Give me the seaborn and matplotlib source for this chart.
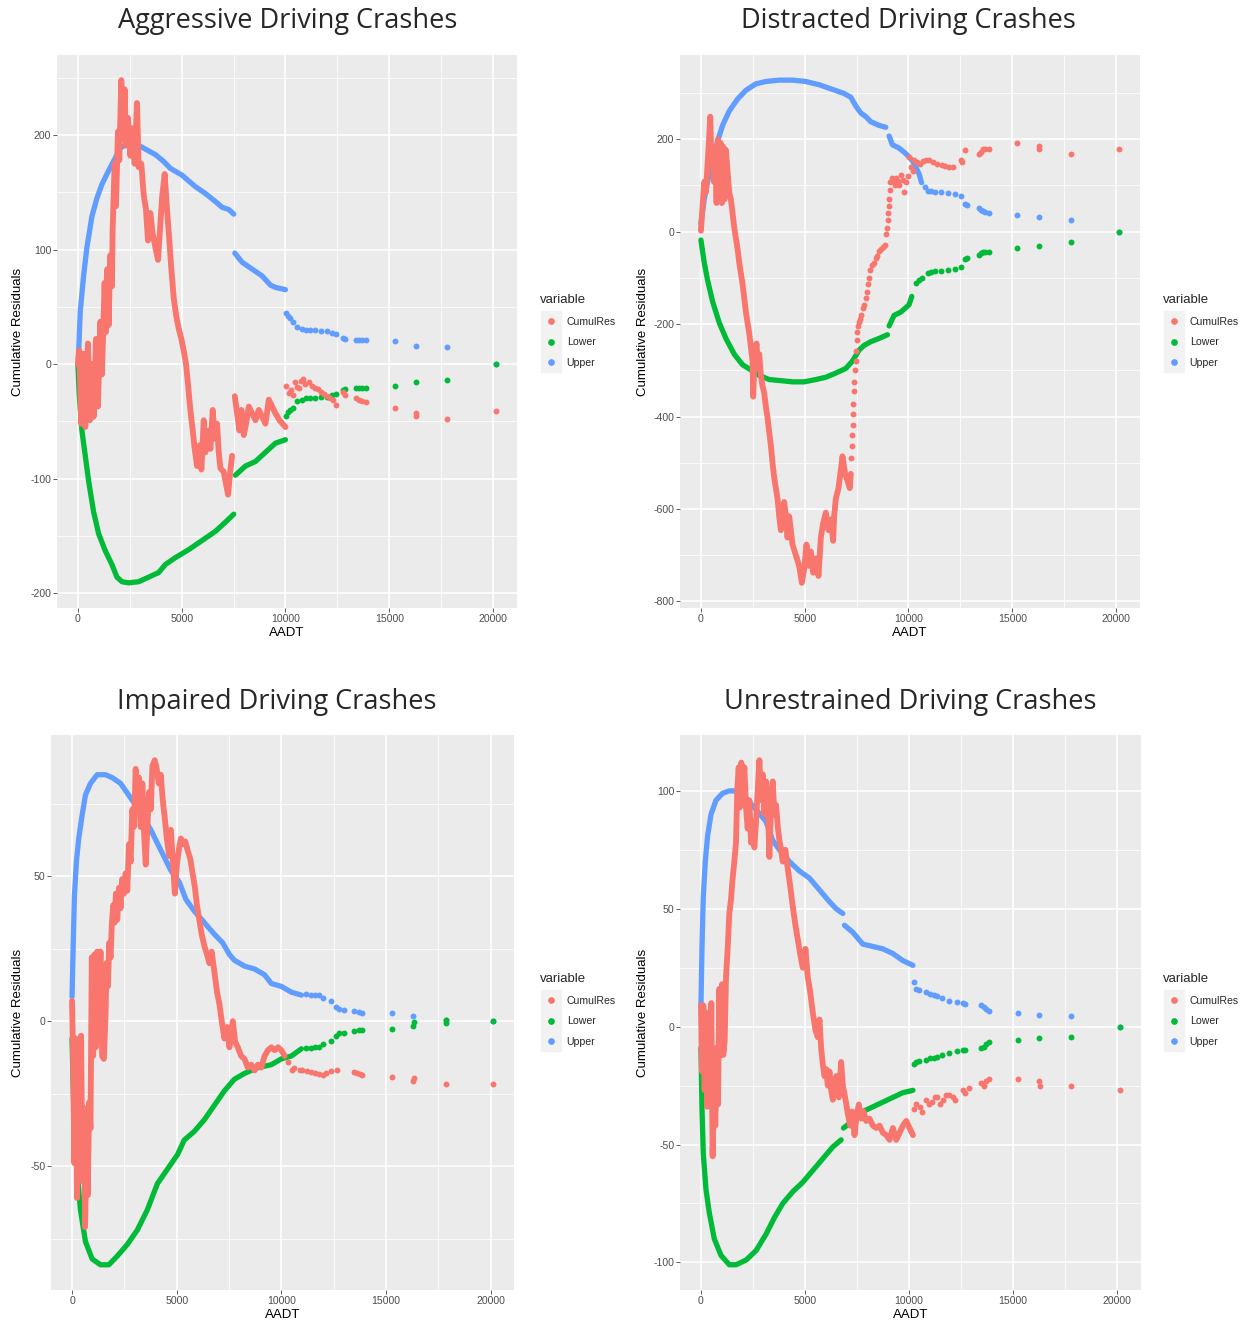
import pandas as pd
import matplotlib
matplotlib.use("Agg")
import matplotlib.pyplot as plt
import seaborn as sns
from matplotlib.lines import Line2D
from matplotlib.legend_handler import HandlerTuple
from matplotlib.ticker import MultipleLocator

# (AADT, value); None = break in a dense run
# "tail" lists are the sparse points drawn as single dots

# ---- Aggressive
tl_upper = [(0, 0), (40, 12), (113, 46), (273, 77), (434, 102), (675, 129), (917, 145), (1158, 157),
            (1479, 169), (1801, 180), (2042, 189), (2283, 191), (2605, 192), (2927, 191), (3329, 187),
            (3731, 183), (4133, 177), (4454, 171), (5017, 165), (5660, 155), (6143, 149), (6625, 142),
            (6947, 137), (7268, 135), (7510, 131), None,
            (7560, 97), (7911, 89), (8394, 83), (8876, 77), (9278, 69), (9520, 67), (10000, 65)]
tl_upper_tail = [(10030, 45), (10120, 42), (10200, 40), (10350, 37), (10570, 32), (10800, 31), (11000, 30),
                 (11200, 30), (11420, 30), (11700, 29), (12000, 29), (12250, 27), (12460, 26), (12750, 23),
                 (12850, 22), (13400, 21), (13550, 21), (13700, 21), (13880, 21), (15270, 20), (16290, 16),
                 (17770, 15), (20150, 0)]
tl_lower = [(0, 0), (60, -25), (193, -58), (354, -80), (515, -102), (756, -129), (997, -148), (1319, -163),
            (1640, -175), (1881, -186), (2123, -190), (2444, -191), (2927, -190), (3409, -186), (3891, -182),
            (4213, -175), (4695, -169), (5338, -162), (5982, -154), (6625, -146), (7107, -138), (7510, -131), None,
            (7590, -97), (8072, -89), (8555, -85), (9037, -77), (9520, -69), (10000, -66)]
tl_lower_tail = [(10030, -45), (10120, -42), (10200, -40), (10350, -38), (10570, -32), (10800, -31), (11000, -30),
                 (11200, -30), (11420, -30), (11700, -29), (12000, -29), (12250, -27), (12460, -26), (12750, -23),
                 (12850, -22), (13400, -21), (13550, -21), (13700, -21), (13880, -21), (15270, -19), (16290, -16),
                 (17770, -14), (20150, 0)]
tl_cumul = [(0, 0), (64, 12), (161, -52), (273, 9), (354, -55), (482, 18), (579, -49), (675, 0), (756, -46),
            (868, 22), (965, -37), (1077, 37), (1158, -9), (1286, 71), (1351, 28), (1415, 83), (1479, 34),
            (1560, 95), (1640, 68), (1672, 117), (1769, 175), (1833, 138), (1930, 203), (1994, 178), (2090, 248),
            (2171, 197), (2251, 240), (2316, 191), (2412, 215), (2525, 182), (2637, 206), (2734, 175), (2846, 228),
            (2927, 172), (3055, 175), (3168, 148), (3280, 135), (3377, 108), (3489, 132), (3602, 114), (3731, 102),
            (3859, 91), (3956, 117), (4052, 145), (4181, 166), (4293, 135), (4406, 108), (4502, 83), (4615, 58),
            (4728, 43), (4856, 31), (4985, 22), (5097, 12), (5210, 0), (5306, -18), (5419, -40), (5532, -58),
            (5628, -74), (5741, -89), (5853, -71), (5950, -92), (6062, -49), (6143, -77), (6271, -58), (6384, -74),
            (6496, -40), (6593, -65), (6705, -52), (6786, -77), (6866, -91), (7027, -94), (7140, -105), (7236, -114),
            (7332, -95), (7429, -80), None,
            (7558, -28), (7670, -43), (7783, -58), (7879, -40), (7992, -62), (8104, -52), (8233, -37), (8394, -43),
            (8555, -49), (8716, -40), (8876, -46), (9037, -52), (9198, -31), (9359, -37), (9520, -43), (9712, -49),
            (10000, -55)]
tl_cumul_tail = [(10050, -19), (10150, -25), (10250, -23), (10350, -27), (10450, -16), (10550, -20), (10650, -21),
                 (10750, -15), (10850, -13), (10950, -17), (11150, -16), (11300, -19), (11420, -21), (11550, -22),
                 (11700, -24), (11850, -26), (12000, -28), (12150, -30), (12300, -31), (12460, -36), (12750, -24),
                 (12850, -27), (13400, -30), (13550, -31), (13700, -32), (13880, -33), (15270, -38), (16290, -43),
                 (16300, -45), (17770, -48), (20150, -41)]

# ---- Distracted
tr_upper = [(0, 18), (160, 70), (321, 108), (562, 154), (803, 196), (1043, 230), (1364, 261), (1766, 287),
            (2167, 306), (2648, 320), (3130, 325), (3772, 328), (4414, 328), (5056, 325), (5698, 318), (6340, 308),
            (6902, 299), (7223, 291), (7463, 272), (7704, 257), (7945, 249), (8186, 238), (8587, 230), (8908, 226), None,
            (9068, 207), (9229, 188), (9550, 181), (9871, 169), (10192, 154), (10350, 140), (10513, 125), (10634, 106)]
tr_upper_tail = [(10800, 97), (10919, 89), (11100, 88), (11300, 86), (11584, 85), (11900, 83), (12249, 81),
                 (12534, 77), (12723, 60), (12800, 58), (13388, 52), (13480, 48), (13578, 44), (13700, 42),
                 (13863, 41), (15250, 36), (16275, 31), (17813, 25), (20150, 0)]
tr_lower = [(0, -18), (160, -67), (321, -105), (562, -151), (883, -197), (1204, -231), (1605, -265), (2006, -288),
            (2407, -299), (2809, -311), (3290, -320), (3772, -322), (4414, -325), (4976, -325), (5537, -320),
            (6019, -315), (6500, -306), (6982, -296), (7303, -280), (7624, -256), (7865, -246), (8186, -238),
            (8587, -231), (8988, -223), None,
            (9068, -204), (9309, -181), (9630, -174), (10031, -158), (10160, -140)]
tr_lower_tail = [(10350, -110), (10500, -105), (10634, -101), (10919, -89), (11100, -88), (11300, -86),
                 (11584, -85), (11900, -83), (12249, -80), (12534, -76), (12723, -60), (12800, -58), (13388, -51),
                 (13480, -47), (13578, -43), (13700, -43), (13863, -43), (15250, -35), (16275, -31), (17813, -22),
                 (20150, 0)]
tr_cumul = [(0, 2), (80, 55), (160, 108), (241, 85), (321, 146), (401, 207), (449, 249), (514, 146), (562, 184),
            (626, 108), (690, 177), (754, 62), (819, 200), (883, 78), (947, 192), (1011, 62), (1075, 184), (1140, 70),
            (1204, 177), (1284, 131), (1364, 85), (1445, 70), (1525, 40), (1605, 9), (1685, -14), (1766, -37),
            (1846, -67), (1926, -90), (2006, -113), (2087, -143), (2167, -174), (2247, -197), (2327, -219),
            (2408, -250), (2488, -280), (2520, -357), (2584, -273), (2680, -242), (2745, -296), (2809, -265),
            (2889, -311), (2969, -334), (3050, -349), (3130, -379), (3210, -402), (3290, -433), (3371, -463),
            (3451, -501), (3531, -532), (3611, -555), (3692, -578), (3772, -616), (3852, -646), (3932, -631),
            (4013, -585), (4093, -616), (4173, -662), (4253, -616), (4334, -646), (4414, -677), (4574, -700),
            (4735, -723), (4863, -760), (4976, -730), (5088, -677), (5184, -723), (5297, -692), (5409, -738),
            (5537, -707), (5666, -745), (5778, -662), (5890, -631), (6019, -608), (6147, -646), (6260, -623),
            (6372, -669), (6420, -616), (6500, -578), (6629, -555), (6741, -516), (6821, -486), (6950, -524),
            (7062, -539), (7174, -555), (7223, -524)]
tr_cumul_tail = [(7250, -490), (7270, -463), (7290, -440), (7305, -418), (7330, -395), (7350, -372), (7380, -345),
                 (7400, -326), (7430, -300), (7450, -280), (7480, -258), (7510, -235), (7540, -218), (7590, -204),
                 (7640, -196), (7680, -189), (7730, -181), (7820, -165), (7880, -158), (7950, -143), (8000, -130),
                 (8040, -113), (8100, -100), (8170, -82), (8250, -72), (8330, -67), (8420, -58), (8500, -52),
                 (8600, -42), (8680, -37), (8760, -33), (8850, -29), (8920, -5), (8960, 9), (9000, 25), (9030, 40),
                 (9060, 55), (9080, 70), (9100, 90), (9130, 108), (9200, 116), (9280, 108), (9340, 101), (9420, 116),
                 (9500, 110), (9560, 101), (9640, 123), (9720, 112), (9800, 85), (9880, 108), (9960, 120),
                 (10050, 162), (10120, 140), (10200, 131), (10255, 156), (10400, 150), (10540, 147), (10700, 152),
                 (10850, 156), (11014, 156), (11200, 150), (11394, 147), (11600, 145), (11774, 143), (11950, 140),
                 (12154, 139), (12534, 156), (12600, 150), (12723, 176), (13388, 168), (13480, 172), (13578, 180),
                 (13700, 178), (13863, 180), (15250, 193), (16275, 185), (16300, 178), (17813, 168), (20150, 180)]

# ---- Impaired
bl_upper = [(0, 8.5), (48, 24), (112, 43), (208, 55), (320, 63), (480, 71), (640, 78), (880, 82), (1200, 85),
            (1600, 85), (1920, 84), (2320, 82), (2800, 77), (3280, 72), (3760, 66), (4240, 59), (4720, 52),
            (5120, 48), (5440, 42), (5840, 38), (6320, 34), (6800, 30), (7200, 27), (7520, 23), (7760, 21),
            (8240, 19), (8720, 18), (9200, 16), (9520, 13), (10000, 12), (10480, 10), (10960, 9)]
bl_upper_tail = [(11200, 9.3), (11430, 9.2), (11600, 9), (11810, 9), (12000, 8), (12370, 7), (12600, 5),
                 (12740, 4.3), (13000, 4), (13490, 3.4), (13700, 3.2), (13870, 3), (15270, 3), (16300, 1.7),
                 (17860, 0.5), (20100, 0)]
bl_lower = [(0, -6), (80, -30), (208, -49), (400, -65), (640, -76), (960, -82), (1360, -84), (1760, -84),
            (2160, -81), (2640, -77), (3120, -72), (3600, -65), (4080, -56), (4560, -51), (5040, -46), (5360, -41),
            (5840, -38), (6320, -34), (6800, -29), (7280, -24), (7760, -20), (8240, -18), (8880, -16), (9520, -15),
            (10000, -13), (10480, -12), (10960, -9.5)]
bl_lower_tail = [(11200, -9.4), (11430, -9.2), (11600, -9), (11810, -8.8), (12000, -8), (12370, -6.8),
                 (12600, -5), (12740, -4.2), (13000, -4), (13490, -3.3), (13700, -3.1), (13870, -2.9),
                 (15270, -2.6), (16300, -1.6), (16320, -0.3), (17860, -0.5), (17880, 0.3), (20100, 0)]
bl_cumul = [(0, 7), (48, -12), (112, -49), (176, -6), (240, -61), (304, -18), (368, -51), (432, -5), (496, -55),
            (560, -30), (624, -71), (688, -43), (752, -60), (816, -28), (880, -37), (944, 22), (1008, -12),
            (1072, 23), (1136, -9), (1200, 24), (1280, 5), (1360, 24), (1440, -12), (1520, -13), (1600, 2),
            (1648, 20), (1712, 12), (1776, 27), (1840, 22), (1904, 34), (1968, 40), (2032, 34), (2096, 44),
            (2160, 35), (2240, 46), (2320, 39), (2400, 49), (2480, 44), (2560, 51), (2640, 45), (2720, 61),
            (2800, 55), (2880, 73), (2960, 67), (3040, 87), (3120, 73), (3200, 84), (3280, 67), (3360, 82),
            (3440, 65), (3520, 54), (3600, 67), (3680, 79), (3760, 73), (3840, 88), (3952, 90), (4048, 87),
            (4144, 82), (4240, 85), (4336, 76), (4432, 70), (4528, 63), (4640, 57), (4720, 66), (4800, 57),
            (4912, 44), (5008, 54), (5120, 60), (5200, 63), (5312, 61), (5408, 62), (5520, 59), (5648, 56),
            (5760, 51), (5872, 46), (5968, 40), (6080, 35), (6192, 30), (6320, 26), (6448, 23), (6560, 20),
            (6672, 24), (6800, 17), (6928, 10), (7040, 6), (7152, 0), (7280, -6), (7408, -2), (7520, -9), (7680, 0),
            (7792, -7), (7920, -9), (8080, -12), (8240, -13), (8400, -16), (8560, -15), (8720, -17), (8880, -15),
            (9040, -16), (9200, -12), (9360, -10), (9520, -9), (9680, -10), (9840, -9), (10000, -10), (10160, -12)]
bl_cumul_tail = [(10300, -14), (10494, -16.7), (10600, -16), (10870, -16.7), (11000, -17), (11244, -17.3),
                 (11400, -17.5), (11620, -18), (11800, -18.2), (11994, -18.4), (12150, -18), (12370, -17.3),
                 (12650, -16.7), (13490, -17.6), (13600, -18), (13750, -18.2), (13870, -18.4), (15270, -19.3),
                 (16300, -20.6), (16320, -19.6), (17860, -21.5), (20110, -21.5)]

# ---- Unrestrained
br_upper = [(0, 9), (48, 33), (112, 55), (209, 70), (321, 81), (482, 90), (722, 96), (1043, 99), (1364, 100),
            (1605, 100), (2167, 97), (2648, 92), (3130, 87), (3451, 79), (3772, 75), (4253, 70), (4735, 66),
            (5216, 63), (5698, 58), (6179, 53), (6500, 50), (6821, 48), None,
            (6900, 43), (7303, 40), (7784, 35), (8266, 34), (8747, 33), (9228, 31), (9710, 28), (10192, 26)]
br_upper_tail = [(10250, 19), (10350, 16), (10500, 15.5), (10800, 14.5), (11000, 14), (11200, 13.5),
                 (11370, 13), (11600, 12), (11940, 11), (12300, 10.5), (12610, 10), (12700, 9.8), (13470, 9),
                 (13600, 8.5), (13700, 7.5), (13850, 6.5), (15240, 5.6), (16270, 4.8), (17810, 4.5), (20150, 0)]
br_lower = [(0, -9), (48, -34), (112, -54), (241, -69), (401, -79), (642, -90), (963, -97), (1364, -101),
            (1685, -101), (2167, -99), (2648, -95), (3130, -88), (3531, -81), (3932, -75), (4414, -70), (4895, -66),
            (5377, -61), (5858, -56), (6340, -51), (6741, -48), None,
            (6850, -43), (7303, -40), (7784, -36), (8266, -34), (8747, -32), (9228, -30), (9710, -28), (10192, -27)]
br_lower_tail = [(10250, -16), (10350, -15), (10500, -14.5), (10800, -14), (11000, -13.5), (11200, -13.2),
                 (11370, -13), (11600, -12), (11940, -11), (12300, -10.5), (12610, -10), (12700, -9.8),
                 (13470, -9), (13600, -8.5), (13700, -7.5), (13850, -6.5), (15240, -5.6), (16270, -4.8),
                 (17810, -4.5), (20150, 0)]
br_cumul = [(0, 9), (48, -19), (112, 9), (177, -27), (241, 6), (305, -34), (369, -6), (433, -27), (498, 10),
            (562, -55), (626, -21), (690, -42), (754, -9), (819, -33), (883, 16), (947, -12), (1011, 18),
            (1075, -12), (1140, -6), (1204, 21), (1284, 33), (1364, 48), (1445, 54), (1525, 63), (1605, 70),
            (1685, 78), (1749, 101), (1814, 110), (1878, 93), (1942, 112), (2006, 99), (2087, 110), (2167, 93),
            (2247, 84), (2327, 96), (2408, 78), (2488, 87), (2568, 76), (2648, 87), (2729, 100), (2809, 113),
            (2889, 96), (2969, 107), (3050, 90), (3130, 104), (3210, 96), (3290, 72), (3371, 93), (3451, 104),
            (3531, 90), (3611, 94), (3692, 85), (3772, 79), (3852, 75), (3932, 70), (4061, 75), (4173, 67),
            (4285, 60), (4414, 51), (4542, 43), (4655, 37), (4767, 31), (4895, 25), (5024, 33), (5136, 21),
            (5248, 15), (5377, 6), (5505, -1.5), (5618, -4.5), (5698, 3), (5778, -9), (5858, -16), (5939, -21),
            (6019, -18), (6099, -25), (6179, -19), (6260, -27), (6340, -31), (6420, -27), (6500, -21), (6629, -30),
            (6741, -15), (6821, -25), (6950, -31), (7062, -37), (7174, -42), (7271, -36), (7383, -46), (7495, -37),
            (7592, -33), (7704, -39), (7816, -36), (7945, -40), (8105, -39), (8266, -42), (8426, -43), (8587, -42),
            (8747, -45), (8908, -46), (9068, -48), (9228, -43), (9389, -48), (9550, -45), (9710, -42), (9871, -40),
            (10031, -43), (10192, -46)]
br_cumul_tail = [(10250, -35), (10350, -33), (10520, -34), (10650, -36), (10800, -31), (10950, -33), (11090, -32),
                 (11230, -30), (11370, -30), (11500, -33), (11660, -31), (11800, -29), (11940, -29), (12100, -30),
                 (12230, -31), (12610, -27), (12700, -28), (12900, -26), (13470, -24), (13600, -25), (13700, -23),
                 (13850, -22), (15240, -22), (16270, -23), (16290, -25), (17810, -25), (20150, -27)]

titles = ["Aggressive Driving Crashes", "Distracted Driving Crashes",
          "Impaired Driving Crashes", "Unrestrained Driving Crashes"]
legend_labels = ["CumulRes", "Lower", "Upper"]
colors = {"CumulRes": "#F8766D", "Lower": "#00BA38", "Upper": "#619CFF"}
widths = {"CumulRes": 4.2, "Lower": 3.8, "Upper": 3.8}


def to_frame(points):
    rows, seg = [], 0
    for p in points:
        if p is None:
            seg += 1
            continue
        rows.append((p[0], p[1], seg))
    return pd.DataFrame(rows, columns=["AADT", "value", "seg"])


sns.set_theme(style="darkgrid", rc={"axes.facecolor": "#EBEBEB", "grid.color": "white"})
plt.rcParams["font.family"] = ["Liberation Sans", "DejaVu Sans"]
plt.rcParams["axes.unicode_minus"] = False

W, H = 1249, 1320
fig = plt.figure(figsize=(W / 100, H / 100), dpi=100)
fig.patch.set_facecolor("white")

# pixel layout: panel left/right/top/bottom, title centre, y-label x, legend top-left
panels = [
    dict(box=(57, 517, 55, 608), title=(288, 21), ylab=18, leg=(535, 289), ystep=100,
         series=[("Upper", tl_upper, tl_upper_tail), ("Lower", tl_lower, tl_lower_tail),
                 ("CumulRes", tl_cumul, tl_cumul_tail)]),
    dict(box=(680, 1140, 55, 608), title=(908, 21), ylab=643, leg=(1158, 289), ystep=200,
         series=[("Upper", tr_upper, tr_upper_tail), ("Lower", tr_lower, tr_lower_tail),
                 ("CumulRes", tr_cumul, tr_cumul_tail)]),
    dict(box=(51, 514, 735, 1290), title=(277, 702), ylab=18, leg=(535, 968), ystep=50,
         series=[("Upper", bl_upper, bl_upper_tail), ("Lower", bl_lower, bl_lower_tail),
                 ("CumulRes", bl_cumul, bl_cumul_tail)]),
    dict(box=(680, 1141, 735, 1290), title=(910, 702), ylab=643, leg=(1158, 968), ystep=50,
         series=[("Upper", br_upper, br_upper_tail), ("Lower", br_lower, br_lower_tail),
                 ("CumulRes", br_cumul, br_cumul_tail)]),
]

for title, p in zip(titles, panels):
    l, r, t, b = p["box"]
    ax = fig.add_axes([l / W, 1 - b / H, (r - l) / W, (b - t) / H])
    for name, dense, tail in p["series"]:
        sns.lineplot(data=to_frame(dense), x="AADT", y="value", units="seg", estimator=None, sort=False,
                     color=colors[name], linewidth=widths[name], solid_capstyle="round",
                     solid_joinstyle="round", zorder=2, ax=ax)
        sns.scatterplot(data=to_frame(tail), x="AADT", y="value", color=colors[name], s=18,
                        linewidth=0, zorder=2, ax=ax)
    ax.margins(x=0.05, y=0.05)
    ax.xaxis.set_major_locator(MultipleLocator(5000))
    ax.xaxis.set_minor_locator(MultipleLocator(2500))
    ax.yaxis.set_major_locator(MultipleLocator(p["ystep"]))
    ax.yaxis.set_minor_locator(MultipleLocator(p["ystep"] / 2))
    ax.grid(which="major", color="white", linewidth=1.1)
    ax.grid(which="minor", color="white", linewidth=0.55)
    ax.set_axisbelow(True)
    ax.tick_params(which="minor", length=0)
    ax.tick_params(which="major", length=2.7, width=0.6, color="#444444", labelsize=7.6,
                   labelcolor="#4D4D4D", pad=1.5, bottom=True, left=True)
    ax.set_xlabel("")
    ax.set_ylabel("")
    for s in ax.spines.values():
        s.set_visible(False)

    cx = (l + r) / 2
    fig.text(cx / W, 1 - (b + 25) / H, "AADT", ha="center", va="center", fontsize=9.5, color="black")
    fig.text(p["ylab"] / W, 1 - ((t + b) / 2) / H, "Cumulative Residuals", rotation=90,
             ha="center", va="center", fontsize=9.5, color="black")
    fig.text(p["title"][0] / W, 1 - p["title"][1] / H, title, ha="center", va="center",
             fontsize=19.5, family="Open Sans", color="#262626")

    handles = [(Line2D([], [], marker="s", ms=15, color="#F2F2F2", ls="none"),
                Line2D([], [], marker="o", ms=3.8, color=colors[n], ls="none")) for n in legend_labels]
    ax.legend(handles, legend_labels, title="variable", loc="upper left",
              bbox_to_anchor=(p["leg"][0] / W, 1 - p["leg"][1] / H), bbox_transform=fig.transFigure,
              frameon=False, fontsize=7.6, title_fontsize=9.5, handlelength=2.0, handletextpad=0.5,
              labelspacing=1.0, borderpad=0, alignment="left",
              handler_map={tuple: HandlerTuple(ndivide=1)})

fig.savefig("out.png", dpi=100)
